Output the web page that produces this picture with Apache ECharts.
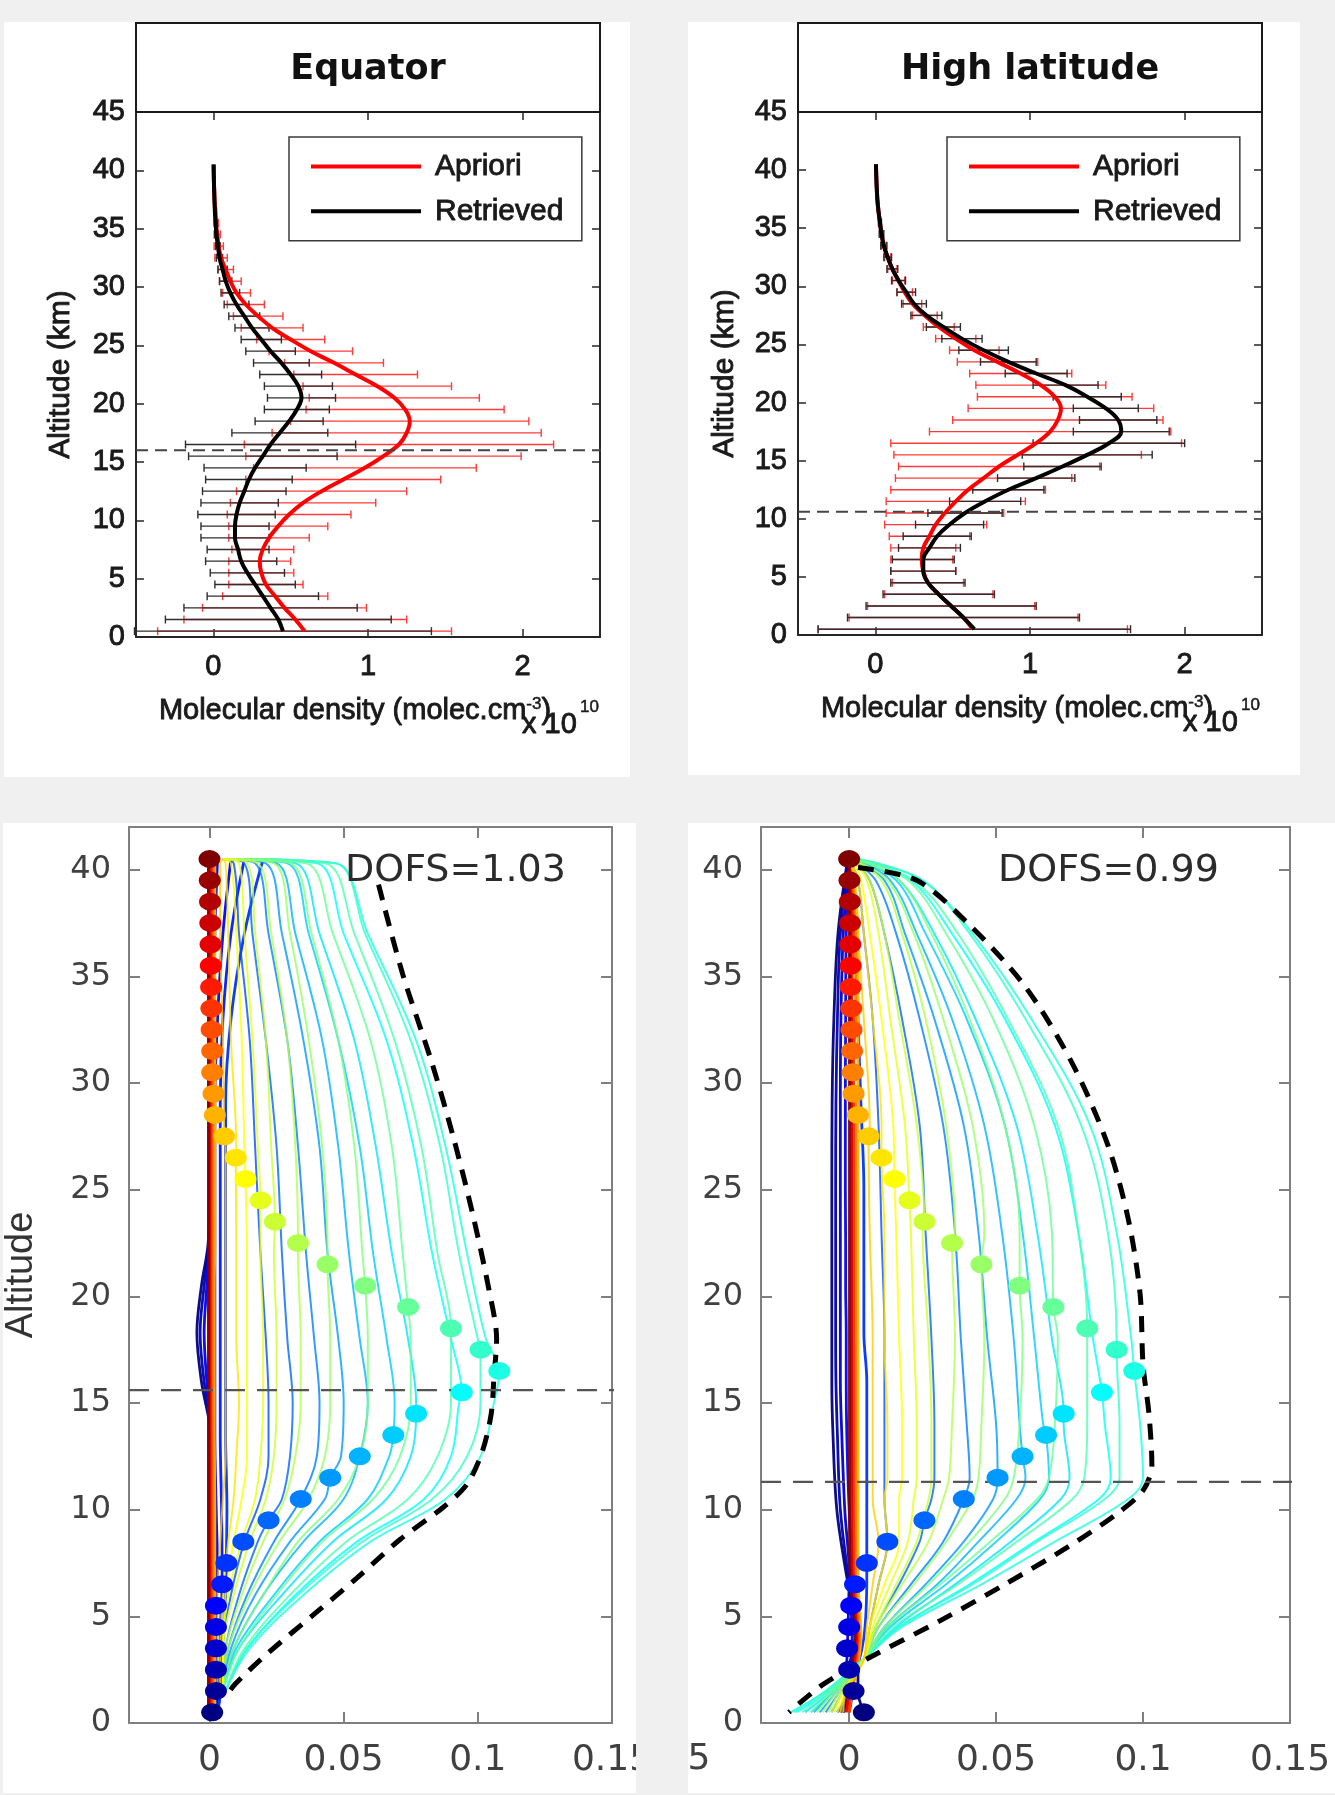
<!DOCTYPE html>
<html><head><meta charset="utf-8">
<script src="https://cdn.jsdelivr.net/npm/echarts@6.0.0/dist/echarts.min.js"></script>
<style>
html,body{margin:0;padding:0;background:#f0f0f0;}
body{width:1335px;height:1795px;position:relative;overflow:hidden;}
.card{position:absolute;background:#fff;}
</style></head><body>
<div id="tl" class="card" style="left:4px;top:22px;width:626px;height:755px"></div>
<div id="tr" class="card" style="left:688px;top:22px;width:612px;height:753px"></div>
<div id="bl" class="card" style="left:3px;top:823px;width:633px;height:970px"></div>
<div id="br" class="card" style="left:688px;top:823px;width:647px;height:970px"></div>
<script>
// ---------------- data ----------------
const ALT = [0.5,1.5,2.5,3.5,4.5,5.5,6.5,7.5,8.5,9.5,10.5,11.5,12.5,13.5,14.5,15.5,16.5,17.5,18.5,19.5,20.5,21.5,22.5,23.5,24.5,25.5,26.5,27.5,28.5,29.5,30.5,31.5,32.5,33.5,34.5,35.5,36.5,37.5,38.5,39.5,40.5];

// top panels (x in units of 1e10 molec/cm3)
const TOP_X_TICKS = [0,1,2];
const TOP_Y_TICKS = [0,5,10,15,20,25,30,35,40,45];
const EQ_APRIORI = [0.59,0.53,0.46,0.40,0.34,0.31,0.30,0.32,0.36,0.42,0.49,0.58,0.70,0.84,0.98,1.10,1.20,1.25,1.27,1.24,1.17,1.06,0.92,0.78,0.63,0.50,0.38,0.29,0.21,0.15,0.11,0.08,0.05,0.035,0.025,0.018,0.012,0.008,0.005,0.003,0.002];
const EQ_APRIORI_ERR = [0.95,0.72,0.53,0.34,0.24,0.21,0.20,0.20,0.26,0.32,0.40,0.47,0.55,0.63,0.72,0.89,1.00,0.87,0.77,0.64,0.55,0.48,0.40,0.32,0.27,0.22,0.20,0.16,0.12,0.09,0.07,0.05,0.04,0.03,0.02,0.015,0.01,0,0,0,0];
const EQ_RETRIEVED = [0.45,0.42,0.37,0.32,0.27,0.22,0.18,0.16,0.14,0.14,0.15,0.17,0.20,0.23,0.27,0.32,0.37,0.43,0.49,0.54,0.57,0.55,0.50,0.44,0.37,0.31,0.25,0.20,0.15,0.11,0.08,0.06,0.04,0.03,0.02,0.015,0.01,0.007,0.005,0.003,0.002];
const EQ_RETRIEVED_ERR = [0.96,0.73,0.56,0.36,0.26,0.24,0.23,0.20,0.22,0.22,0.25,0.25,0.27,0.28,0.33,0.48,0.55,0.31,0.22,0.21,0.22,0.22,0.20,0.18,0.16,0.13,0.11,0.10,0.08,0.06,0.04,0.03,0.02,0.015,0.01,0.005,0,0,0,0,0];
const EQ_TROPO_TOP = 16.0;

const HL_APRIORI = [0.63,0.57,0.49,0.41,0.34,0.31,0.30,0.31,0.35,0.39,0.45,0.52,0.60,0.70,0.80,0.92,1.04,1.13,1.18,1.20,1.16,1.07,0.94,0.79,0.64,0.52,0.41,0.32,0.24,0.19,0.15,0.11,0.08,0.055,0.04,0.03,0.02,0.013,0.009,0.006,0.004];
const HL_APRIORI_ERR = [1.00,0.74,0.54,0.35,0.23,0.21,0.20,0.21,0.26,0.33,0.38,0.45,0.50,0.57,0.65,0.80,0.94,0.78,0.68,0.60,0.50,0.42,0.33,0.26,0.16,0.13,0.10,0.08,0.06,0.05,0.04,0.03,0.02,0.015,0.01,0.005,0,0,0,0,0];
const HL_RETRIEVED = [0.64,0.57,0.49,0.41,0.34,0.31,0.31,0.35,0.40,0.48,0.58,0.71,0.86,1.04,1.21,1.37,1.51,1.59,1.57,1.49,1.37,1.23,1.04,0.86,0.70,0.56,0.44,0.33,0.25,0.20,0.15,0.11,0.08,0.055,0.04,0.03,0.02,0.013,0.009,0.006,0.004];
const HL_RETRIEVED_ERR = [1.01,0.75,0.55,0.36,0.24,0.21,0.20,0.20,0.22,0.22,0.24,0.23,0.23,0.25,0.25,0.42,0.49,0.31,0.25,0.21,0.22,0.21,0.20,0.18,0.16,0.13,0.11,0.10,0.08,0.06,0.045,0.035,0.025,0.02,0.015,0.01,0,0,0,0,0];
const HL_TROPO_TOP = 10.6;

// bottom panels: averaging kernels
const AK_X_TICKS = [0,0.05,0.1,0.15];
const AK_Y_TICKS = [0,5,10,15,20,25,30,35,40];
const EQ_DOT_X = [0.001,0.0024,0.0024,0.0024,0.0024,0.0024,0.0047,0.0063,0.0126,0.022,0.034,0.045,0.056,0.0685,0.077,0.094,0.108,0.101,0.090,0.074,0.058,0.044,0.033,0.0244,0.019,0.0134,0.0098,0.0055,0.002,0.0015,0.001,0.001,0.0008,0.0007,0.0006,0.0005,0.0004,0.0003,0.0002,0.0001,0.0];
const EQ_K_ALT = [40.5,40.3,37,32,27,22,18,15,12.5,10.5,8.5,6,3.5,1.5];
const EQ_K_LEVELS = [8.5,9.5,10.5,11.5,12.5,13.5,14.5,15.5,16.5,17.5,18.5,19.5,20.5,21.5,22.5,23.5,24.5,25.5,26.5,27.5];
const EQ_K = [
 [0.005,.009,.011,.015,.017,.019,.021,.022,.022,.019,.013,.008,.005,.005],
 [0.005,.013,.016,.021,.025,.027,.029,.031,.030,.027,.018,.011,.006,.005],
 [0.005,.017,.022,.029,.033,.036,.039,.041,.040,.034,.024,.014,.007,.005],
 [0.005,.021,.027,.035,.041,.044,.048,.050,.049,.043,.030,.017,.008,.005],
 [0.005,.025,.032,.042,.048,.052,.056,.059,.056,.050,.035,.020,.009,.005],
 [0.005,.029,.037,.048,.056,.061,.066,.069,.067,.059,.041,.024,.010,.005],
 [0.005,.032,.041,.054,.062,.068,.074,.077,.075,.066,.046,.027,.011,.005],
 [0.005,.040,.050,.066,.076,.083,.090,.093,.090,.080,.055,.032,.014,.006],
 [0.005,.047,.059,.077,.088,.096,.103,.106,.101,.088,.060,.035,.015,.006],
 [0.005,.047,.058,.075,.086,.093,.100,.101,.096,.083,.057,.033,.014,.006],
 [0.005,.043,.054,.069,.079,.085,.090,.090,.085,.074,.051,.030,.013,.006],
 [0.005,.036,.046,.060,.068,.072,.075,.075,.071,.061,.042,.025,.011,.005],
 [0.005,.030,.038,.048,.054,.057,.059,.059,.056,.048,.033,.020,.009,.005],
 [0.005,.024,.030,.037,.042,.044,.045,.045,.043,.037,.026,.015,.007,.005],
 [0.005,.018,.023,.029,.032,.033,.034,.034,.032,.028,.020,.012,.006,.005],
 [0.005,.014,.017,.021,.023,.024,.025,.025,.024,.021,.015,.009,.005,.005],
 [0.005,.011,.013,.016,.018,.019,.020,.020,.019,.017,.012,.007,.005,.005],
 [0.005,.008,.010,.012,.013,.014,.014,.014,.014,.012,.009,.006,.005,.005],
 [0.005,.006,.007,.008,.010,.010,.010,.011,.010,.009,.007,.005,.004,.004],
 [0.005,.004,.004,.005,.006,.006,.006,.006,.006,.005,.004,.003,.003,.003]
];
const EQ_Z_ALT = [40.5,37,33,29,25,22.5,20.5,18.3,16,13.5,10,7,4,1.5,0.5];
const EQ_Z_LEVELS = [0.5,2.5,4.5,5.5,6.5,7.5,28.5,30.5,33.5,36.5,40.5];
const EQ_Z = [
 [0.001,0.001,0.001,0.0005,0.0,-0.0005,-0.003,-0.0047,-0.003,0.0005,0.001,0.001,0.001,0.001,0.001],
 [0.002,0.0015,0.001,0.0005,0.0,-0.0003,-0.002,-0.0035,-0.002,0.001,0.0015,0.002,0.0022,0.0024,0.002],
 [0.003,0.002,0.0015,0.001,0.0008,0.0,-0.001,-0.002,-0.001,0.001,0.002,0.0025,0.0024,0.003,0.003],
 [0.008,0.005,0.003,0.002,0.002,0.002,0.002,0.002,0.002,0.002,0.0025,0.003,0.0024,0.003,0.002],
 [0.013,0.008,0.005,0.004,0.004,0.004,0.004,0.004,0.004,0.004,0.0045,0.0047,0.004,0.004,0.003],
 [0.020,0.013,0.008,0.006,0.006,0.006,0.006,0.006,0.006,0.006,0.0065,0.0063,0.005,0.004,0.003],
 [0.002,0.002,0.002,0.002,0.002,0.002,0.0018,0.0018,0.0018,0.0018,0.002,0.002,0.002,0.002,0.002],
 [0.0015,0.0013,0.0012,0.0012,0.0012,0.0012,0.0012,0.0012,0.0012,0.0012,0.0012,0.0012,0.0013,0.0013,0.0012],
 [0.0008,0.0007,0.0006,0.0006,0.0006,0.0006,0.0006,0.0006,0.0006,0.0006,0.0006,0.0006,0.0007,0.0007,0.0007],
 [0.0002,0.0001,0.0001,0.0001,0.0001,0.0001,0.0001,0.0001,0.0001,0.0001,0.0001,0.0001,0.0001,0.0001,0.0001],
 [-0.0004,-0.0004,-0.0004,-0.0004,-0.0004,-0.0004,-0.0004,-0.0004,-0.0004,-0.0004,-0.0004,-0.0004,-0.0004,-0.0004,-0.0004]
];
const EQ_ENV_X = [0.063,0.072,0.083,0.091,0.098,0.104,0.107,0.106,0.105,0.1016,0.096,0.087,0.071,0.055,0.039,0.022,0.0094,0.006];
const EQ_ENV_ALT = [39.3,35.1,30.9,27.4,23.9,20.4,18.0,16.2,14.5,12.7,11.2,10.1,8.6,6.8,5.1,3.3,1.8,1.2];
const EQ_TROPO_AK = 15.6;
const EQ_DOFS = 'DOFS=1.03';

const HL_DOT_X = [0.005,0.0015,0.0,-0.0007,0.0,0.0007,0.002,0.006,0.013,0.0256,0.039,0.0505,0.059,0.067,0.073,0.086,0.097,0.091,0.081,0.0695,0.058,0.045,0.035,0.0256,0.0205,0.0154,0.011,0.0066,0.003,0.0015,0.0012,0.001,0.0008,0.0007,0.0005,0.0005,0.0004,0.0003,0.0002,0.0001,0.0];
const HL_K_ALT = [40.5,39.5,37,33,28,23,18,14,11.5,10.5,8.5,6.5,4.5,3,1.5,0.5];
const HL_K_LEVELS = [8.5,9.5,10.5,11.5,12.5,13.5,14.5,15.5,16.5,17.5,18.5,19.5,20.5,21.5,22.5,23.5,24.5,25.5,26.5,27.5];
const HL_K = [
 [0.000,0.003,0.005,0.008,0.010,0.011,0.012,0.012,0.012,0.012,0.013,0.010,0.007,0.005,-0.001,-0.002],
 [0.001,0.007,0.012,0.018,0.024,0.026,0.028,0.029,0.029,0.028,0.024,0.017,0.009,0.005,-0.002,-0.006],
 [0.001,0.009,0.016,0.024,0.032,0.036,0.038,0.040,0.041,0.039,0.032,0.021,0.010,0.005,-0.003,-0.008],
 [0.001,0.012,0.019,0.029,0.039,0.044,0.047,0.050,0.0505,0.049,0.039,0.026,0.012,0.005,-0.004,-0.010],
 [0.002,0.014,0.023,0.035,0.046,0.052,0.056,0.058,0.060,0.057,0.044,0.030,0.013,0.005,-0.005,-0.012],
 [0.002,0.016,0.026,0.040,0.053,0.059,0.063,0.066,0.068,0.065,0.050,0.033,0.014,0.005,-0.005,-0.013],
 [0.002,0.017,0.029,0.043,0.057,0.064,0.069,0.073,0.075,0.072,0.055,0.036,0.016,0.005,-0.006,-0.015],
 [0.003,0.021,0.035,0.053,0.070,0.078,0.083,0.087,0.089,0.085,0.063,0.041,0.017,0.005,-0.007,-0.018],
 [0.003,0.025,0.042,0.062,0.082,0.091,0.096,0.099,0.100,0.095,0.070,0.045,0.018,0.005,-0.008,-0.020],
 [0.003,0.025,0.041,0.060,0.079,0.088,0.091,0.092,0.092,0.087,0.064,0.042,0.017,0.005,-0.008,-0.019],
 [0.003,0.022,0.037,0.054,0.071,0.078,0.081,0.081,0.080,0.076,0.057,0.037,0.015,0.005,-0.007,-0.016],
 [0.002,0.020,0.033,0.049,0.063,0.069,0.071,0.070,0.068,0.064,0.048,0.031,0.013,0.005,-0.006,-0.013],
 [0.002,0.017,0.028,0.041,0.053,0.058,0.059,0.058,0.056,0.053,0.041,0.027,0.012,0.005,-0.005,-0.011],
 [0.001,0.013,0.022,0.032,0.042,0.046,0.046,0.045,0.044,0.042,0.033,0.022,0.010,0.005,-0.004,-0.009],
 [0.001,0.011,0.018,0.026,0.033,0.036,0.036,0.035,0.034,0.032,0.027,0.018,0.009,0.005,-0.003,-0.007],
 [0.001,0.007,0.012,0.017,0.023,0.025,0.027,0.028,0.028,0.027,0.023,0.016,0.009,0.005,-0.002,-0.006],
 [0.001,0.006,0.010,0.014,0.019,0.021,0.022,0.023,0.023,0.022,0.020,0.014,0.008,0.005,-0.002,-0.005],
 [0.001,0.004,0.007,0.011,0.015,0.016,0.017,0.018,0.018,0.017,0.017,0.012,0.007,0.005,-0.001,-0.004],
 [0.000,0.003,0.005,0.008,0.011,0.012,0.012,0.013,0.013,0.012,0.013,0.010,0.007,0.005,-0.001,-0.003],
 [0.000,0.002,0.003,0.005,0.007,0.007,0.008,0.008,0.008,0.008,0.010,0.008,0.006,0.005,-0.001,-0.002]
];
const HL_Z_ALT = [40.5,37,33,29,25,22.5,20.5,18.3,16,13.5,10,7,4,1.5,0.5];
const HL_Z_LEVELS = [0.5,2.5,3.5,5.5,6.5,7.5,28.5,30.5,33.5,36.5,40.5];
const HL_Z = [
 [-0.0005,-0.0038,-0.0052,-0.0058,-0.0059,-0.0059,-0.0059,-0.0059,-0.0059,-0.0055,-0.0042,-0.001,0.003,0.003,0.005],
 [-0.0003,-0.003,-0.004,-0.0045,-0.0046,-0.0046,-0.0046,-0.0046,-0.0045,-0.004,-0.003,-0.0005,0.002,0.001,0.0],
 [0.0,-0.002,-0.0028,-0.003,-0.003,-0.003,-0.003,-0.003,-0.003,-0.0025,-0.0015,0.0,-0.0005,-0.001,-0.002],
 [0.0,-0.001,-0.0012,-0.0013,-0.0013,-0.0012,-0.0012,-0.001,-0.001,-0.0008,0.0,0.0012,0.001,0.0,-0.002],
 [0.0,0.0005,0.0008,0.001,0.001,0.001,0.001,0.001,0.001,0.001,0.0015,0.002,0.003,0.0,-0.003],
 [0.0,0.002,0.003,0.004,0.005,0.005,0.005,0.005,0.006,0.006,0.006,0.006,0.005,0.0,-0.004],
 [0.0005,0.003,0.003,0.003,0.003,0.003,0.003,0.003,0.003,0.003,0.003,0.003,0.004,0.001,-0.001],
 [0.0005,0.0022,0.0022,0.0022,0.0022,0.0022,0.0022,0.0022,0.0022,0.0022,0.0022,0.0022,0.0035,0.001,0.0],
 [0.0,0.0014,0.0015,0.0015,0.0015,0.0015,0.0015,0.0015,0.0015,0.0015,0.0015,0.0016,0.003,0.0005,0.0],
 [0.0,0.0007,0.0008,0.0008,0.0008,0.0008,0.0008,0.0008,0.0008,0.0008,0.0008,0.001,0.0025,0.0,-0.001],
 [0.0,0.0001,0.0001,0.0001,0.0001,0.0001,0.0001,0.0001,0.0001,0.0001,0.0001,0.0003,0.002,-0.001,-0.002]
];
const HL_ENV_X = [0.003,0.023,0.041,0.060,0.076,0.088,0.095,0.099,0.100,0.102,0.103,0.100,0.091,0.075,0.053,0.031,0.006,-0.009,-0.0205];
const HL_ENV_ALT = [40.1,39.5,37.4,34.5,30.9,27.1,23.6,20.1,16.8,14.5,12.1,10.9,9.8,8.3,6.5,4.8,3.0,1.8,0.5];
const HL_TROPO_AK = 11.3;
const HL_DOFS = 'DOFS=0.99';

// ---------------- helpers ----------------
const FONT_TOP = '"Liberation Sans", Arial, sans-serif';
const FONT_BOT = '"DejaVu Sans", sans-serif';
const TOP_TX = '#1a1a1a';
const HEAVY = {textBorderColor:TOP_TX, textBorderWidth:0.9};
function jet(t){
  const c = v => Math.round(255*Math.min(1, Math.max(0, v)));
  return 'rgb(' + c(1.5-Math.abs(4*t-3)) + ',' + c(1.5-Math.abs(4*t-2)) + ',' + c(1.5-Math.abs(4*t-1)) + ')';
}
function errSeries(center, err, color, z){
  return {
    type:'custom', z, silent:true,
    data: ALT.map((a,i)=>[center[i], a, err[i]]),
    encode:{x:0, y:1},
    renderItem:(params, api)=>{
      const c = api.value(0), a = api.value(1), e = api.value(2);
      if (!(e > 0)) return null;
      const p1 = api.coord([c-e, a]), p2 = api.coord([c+e, a]);
      const h = 4, st = {stroke:color, lineWidth:1.4};
      return {type:'group', children:[
        {type:'line', shape:{x1:p1[0],y1:p1[1],x2:p2[0],y2:p2[1]}, style:st},
        {type:'line', shape:{x1:p1[0],y1:p1[1]-h,x2:p1[0],y2:p1[1]+h}, style:st},
        {type:'line', shape:{x1:p2[0],y1:p2[1]-h,x2:p2[0],y2:p2[1]+h}, style:st}
      ]};
    }
  };
}
function gtext(text, x, y, size, family, color, align, heavy, weight){
  const st = {text, fontSize:size, fontFamily:family, fill:color, align:align||'left', verticalAlign:'middle', textAlign:align||'left', textVerticalAlign:'middle'};
  if (weight) st.fontWeight = weight;
  if (heavy) { st.stroke = color; st.lineWidth = heavy; }
  return {type:'text', x, y, z:50, silent:true, style:st};
}

function profileChart(id, o){
  const chart = echarts.init(document.getElementById(id), null, {renderer:'canvas'});
  const AX = '#262626', TX = TOP_TX;
  const g = o.grid;
  const mkX = (pos, show) => ({type:'value', position:pos, min:-0.5, max:2.5,
    splitLine:{show:false},
    axisLine:{show:true, onZero:false, lineStyle:{color:AX, width:2}},
    axisTick:{show:true, inside:true, length:8, customValues:TOP_X_TICKS, lineStyle:{color:AX, width:1.5}},
    axisLabel:Object.assign({show:show, customValues:TOP_X_TICKS, margin:15, fontSize:29, fontFamily:FONT_TOP, color:TX}, HEAVY)});
  const mkY = (pos, show) => ({type:'value', position:pos, min:0, max:45, interval:5,
    splitLine:{show:false},
    axisLine:{show:true, onZero:false, lineStyle:{color:AX, width:2}},
    axisTick:{show:true, inside:true, length:8, customValues:TOP_Y_TICKS, lineStyle:{color:AX, width:1.5}},
    axisLabel:Object.assign({show:show, customValues:TOP_Y_TICKS, margin:11, fontSize:29, fontFamily:FONT_TOP, color:TX}, HEAVY)});
  const x0 = Object.assign(mkX('bottom', true), {
    name:'Molecular density (molec.cm{s|-3}{n|)}', nameLocation:'middle', nameGap:59,
    nameTextStyle:Object.assign({fontSize:29, fontFamily:FONT_TOP, color:TX, padding:[0,26,0,0],
      rich:{s:Object.assign({fontSize:17, fontFamily:FONT_TOP, color:TX, verticalAlign:'top', lineHeight:29}, HEAVY, {textBorderWidth:0.5}),
            n:Object.assign({fontSize:29, fontFamily:FONT_TOP, color:TX}, HEAVY)}}, HEAVY)});
  const y0 = Object.assign(mkY('left', true), {
    name:'Altitude (km)', nameLocation:'middle', nameRotate:90, nameGap:o.yNameGap,
    nameTextStyle:Object.assign({fontSize:30, fontFamily:FONT_TOP, color:TX}, HEAVY)});
  chart.setOption({
    animation:false,
    grid:{left:g[0], top:g[1], width:g[2], height:g[3], outerBoundsMode:'none', show:false},
    legend:{data:['Apriori','Retrieved'], orient:'vertical', left:o.legend[0], top:o.legend[1],
      padding:[14,18,14,22], itemGap:14, itemWidth:110, itemHeight:4, icon:'rect',
      borderColor:'#3a3a3a', borderWidth:1.5, backgroundColor:'#fff', selectedMode:false,
      textStyle:Object.assign({fontSize:30, fontFamily:FONT_TOP, color:TX, padding:[0,0,0,9]}, HEAVY)},
    xAxis:[x0, mkX('top', false)],
    yAxis:[y0, mkY('right', false)],
    graphic:[
      {type:'rect', z:40, silent:true, shape:{x:g[0], y:1, width:g[2], height:g[1]-1}, style:{fill:'#fff', stroke:'#1a1a1a', lineWidth:2}},
      gtext(o.title, g[0]+g[2]/2, 48, 35, '"DejaVu Sans", sans-serif', '#111', 'center', 0, 'bold'),
      gtext('x 10', o.x10[0], o.x10[1], 29, FONT_TOP, TX, 'left', 0.9),
      gtext('10', o.x10[0]+58, o.x10[1]-18, 17, FONT_TOP, TX, 'left', 0.5)
    ],
    series:[
      errSeries(o.apr, o.aprErr, '#ff3b3b', 1),
      errSeries(o.ret, o.retErr, '#2e2e2e', 2),
      {type:'line', name:'Apriori', data:ALT.map((a,i)=>[o.apr[i], a]), smooth:0.4, symbol:'none', z:3,
        lineStyle:{color:'#ff0000', width:4}, itemStyle:{color:'#ff0000'}},
      {type:'line', name:'Retrieved', data:ALT.map((a,i)=>[o.ret[i], a]), smooth:0.4, symbol:'none', z:4,
        lineStyle:{color:'#000000', width:4}, itemStyle:{color:'#000000'}},
      {type:'line', data:[[-0.5, o.tropo],[o.tropoEnd, o.tropo]], clip:false, symbol:'none', silent:true, z:5,
        lineStyle:{color:'#444', width:2, type:[12,7]}}
    ]
  });
}

function kernelSeries(nodesAlt, rows, levels, dotX, width, opacity, z){
  return levels.map((lv, j) => {
    const pts = nodesAlt.map((a, k) => [rows[j][k], a]);
    const di = ALT.indexOf(lv);
    if (di >= 0 && nodesAlt.indexOf(lv) < 0) pts.push([dotX[di], lv]);
    pts.sort((p, q) => q[1] - p[1]);
    return {type:'line', data:pts, smooth:0.35, symbol:'none', silent:true, z,
      lineStyle:{color:jet(di/40), width, opacity}};
  });
}

function akChart(id, o){
  const chart = echarts.init(document.getElementById(id), null, {renderer:'canvas'});
  const AX = '#7f7f7f', TX = '#404040';
  const g = o.grid;
  const mkX = (pos, show) => ({type:'value', position:pos, min:-0.03, max:0.15,
    splitLine:{show:false},
    axisLine:{show:true, onZero:false, lineStyle:{color:AX, width:2}},
    axisTick:{show:true, inside:true, length:11, customValues:AK_X_TICKS, lineStyle:{color:AX, width:2}},
    axisLabel:{show:show, customValues:AK_X_TICKS, margin:20, fontSize:36, fontFamily:FONT_BOT, color:TX}});
  const mkY = (pos, show) => ({type:'value', position:pos, min:0, max:42,
    splitLine:{show:false},
    axisLine:{show:true, onZero:false, lineStyle:{color:AX, width:2}},
    axisTick:{show:true, inside:true, length:11, customValues:AK_Y_TICKS, lineStyle:{color:AX, width:2}},
    axisLabel:{show:show, customValues:AK_Y_TICKS, margin:18, fontSize:32, fontFamily:FONT_BOT, color:TX}});
  const y0 = mkY('left', true);
  if (o.yName) Object.assign(y0, {name:o.yName, nameLocation:'middle', nameRotate:90, nameGap:88,
    nameTextStyle:{fontSize:38, fontFamily:FONT_TOP, color:'#333'}});
  const series = [].concat(
    kernelSeries(o.zAlt, o.z, o.zLevels, o.dotX, 2.8, 0.95, 2),
    kernelSeries(o.kAlt, o.k, o.kLevels, o.dotX, 2, 0.8, 3),
    [{type:'line', data:o.envAlt.map((a,k)=>[o.envX[k], a]), smooth:0.3, symbol:'none', silent:true, z:5,
       lineStyle:{color:'#000', width:5, type:[16,11]}},
     {type:'line', data:[[-0.03, o.tropo],[o.tropoEnd, o.tropo]], clip:false, symbol:'none', silent:true, z:6,
       lineStyle:{color:'#555', width:2.2, type:[20,12]}},
     {type:'scatter', data:ALT.map((a,i)=>[o.dotX[i], a]), symbol:'circle', symbolSize:[22,18], silent:true, z:10,
       itemStyle:{color:p=>jet(p.dataIndex/40), opacity:1}}]
  );
  const graphic = [gtext(o.dofs, o.dofsPos[0], o.dofsPos[1], 38, FONT_BOT, '#2b2b2b', 'left')];
  if (o.extraLabel) graphic.push(gtext(o.extraLabel[0], o.extraLabel[1], o.extraLabel[2], 36, FONT_BOT, TX, 'center'));
  chart.setOption({
    animation:false,
    grid:{left:g[0], top:g[1], width:g[2], height:g[3], outerBoundsMode:'none', show:false},
    xAxis:[mkX('bottom', true), mkX('top', false)],
    yAxis:[y0, mkY('right', false)],
    graphic,
    series
  });
}

// ---------------- charts ----------------
profileChart('tl', {grid:[132,90,464,525], legend:[285,115], title:'Equator', yNameGap:60,
  apr:EQ_APRIORI, aprErr:EQ_APRIORI_ERR, ret:EQ_RETRIEVED, retErr:EQ_RETRIEVED_ERR,
  tropo:EQ_TROPO_TOP, tropoEnd:2.69, x10:[518,703]});
profileChart('tr', {grid:[110,90,464,523], legend:[259,115], title:'High latitude', yNameGap:58,
  apr:HL_APRIORI, aprErr:HL_APRIORI_ERR, ret:HL_RETRIEVED, retErr:HL_RETRIEVED_ERR,
  tropo:HL_TROPO_TOP, tropoEnd:2.75, x10:[495,701]});
akChart('bl', {grid:[126,4,483,896], yName:'Altitude', dotX:EQ_DOT_X,
  kAlt:EQ_K_ALT, k:EQ_K, kLevels:EQ_K_LEVELS, zAlt:EQ_Z_ALT, z:EQ_Z, zLevels:EQ_Z_LEVELS,
  envX:EQ_ENV_X, envAlt:EQ_ENV_ALT, tropo:EQ_TROPO_AK, tropoEnd:0.151, dofs:EQ_DOFS, dofsPos:[342,48]});
akChart('br', {grid:[73,4,529,896], yName:null, dotX:HL_DOT_X,
  kAlt:HL_K_ALT, k:HL_K, kLevels:HL_K_LEVELS, zAlt:HL_Z_ALT, z:HL_Z, zLevels:HL_Z_LEVELS,
  envX:HL_ENV_X, envAlt:HL_ENV_ALT, tropo:HL_TROPO_AK, tropoEnd:0.166, dofs:HL_DOFS, dofsPos:[310,48],
  extraLabel:['5', 11, 937]});
</script>
</body></html>
